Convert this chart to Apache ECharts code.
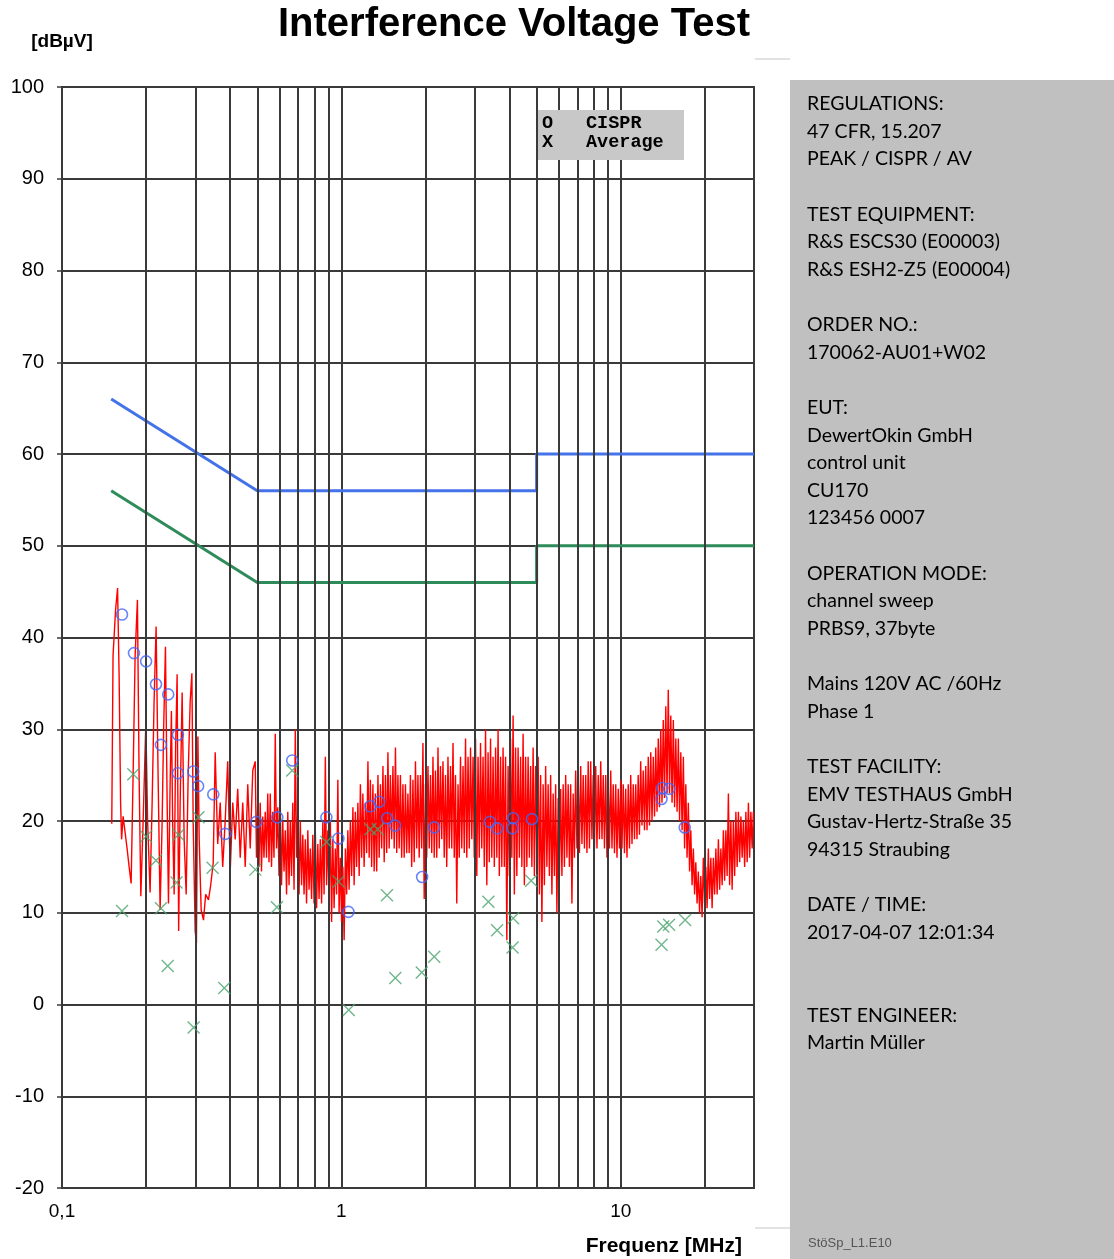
<!DOCTYPE html>
<html><head><meta charset="utf-8">
<script src="https://cdn.jsdelivr.net/npm/echarts@6/dist/echarts.min.js"></script>
<style>html,body{margin:0;padding:0;background:#fff}#chart{width:1114px;height:1259px}</style>
</head><body><div id="chart"></div>
<script>
// ---------- texts ----------
const titleText = 'Interference Voltage Test';
const yUnitText = '[dBµV]';
const xNameText = 'Frequenz [MHz]';
const footerText = 'StöSp_L1.E10';
const legendMarks = ['O', 'X'];
const legendNames = ['CISPR', 'Average'];
const infoLines = [
  'REGULATIONS:', '47 CFR, 15.207', 'PEAK / CISPR / AV', '',
  'TEST EQUIPMENT:', 'R&S ESCS30 (E00003)', 'R&S ESH2-Z5 (E00004)', '',
  'ORDER NO.:', '170062-AU01+W02', '',
  'EUT:', 'DewertOkin GmbH', 'control unit', 'CU170', '123456 0007', '',
  'OPERATION MODE:', 'channel sweep', 'PRBS9, 37byte', '',
  'Mains 120V AC /60Hz', 'Phase 1', '',
  'TEST FACILITY:', 'EMV TESTHAUS GmbH', 'Gustav-Hertz-Straße 35', '94315 Straubing', '',
  'DATE / TIME:', '2017-04-07 12:01:34', '', '',
  'TEST ENGINEER:', 'Martin Müller'
];

// ---------- axes ----------
const yMin = -20, yMax = 100, yStep = 10;
const xMin = 0.1, xMax = 30;
const xLabelValues = [0.1, 1, 10];
const xLabelTexts = ['0,1', '1', '10'];
const minorGridFreqs = [0.2, 0.3, 0.4, 0.5, 0.6, 0.7, 0.8, 0.9, 2, 3, 4, 5, 6, 7, 8, 9, 20];

// ---------- limit lines [MHz, dBµV] ----------
const qpLimit = [[0.15, 66], [0.5, 56], [5, 56], [5, 60], [30, 60]];
const avLimit = [[0.15, 56], [0.5, 46], [5, 46], [5, 50], [30, 50]];

// ---------- final measurement points [MHz, dBµV] ----------
const cisprPoints = [
  [0.164, 42.5], [0.181, 38.3], [0.200, 37.4], [0.217, 34.9], [0.226, 28.3], [0.240, 33.8],
  [0.260, 29.4], [0.260, 25.2], [0.295, 25.4], [0.307, 23.8], [0.348, 22.9], [0.384, 18.6],
  [0.496, 19.9], [0.590, 20.4], [0.667, 26.6], [0.884, 20.4], [0.976, 18.1], [1.06, 10.1],
  [1.27, 21.6], [1.365, 22.1], [1.458, 20.3], [1.557, 19.5], [1.946, 13.9], [2.15, 19.3],
  [3.40, 19.9], [3.61, 19.2], [4.12, 20.3], [4.10, 19.2], [4.81, 20.2],
  [14.0, 22.4], [14.1, 23.6], [14.9, 23.5], [16.95, 19.3]
];
const averagePoints = [
  [0.164, 10.2], [0.180, 25.1], [0.200, 18.3], [0.217, 15.7], [0.226, 10.5], [0.239, 4.2],
  [0.257, 13.3], [0.261, 18.5], [0.296, -2.5], [0.308, 20.4], [0.346, 14.9], [0.381, 1.8],
  [0.492, 14.7], [0.588, 10.6], [0.667, 25.5], [0.884, 17.7], [0.977, 13.4], [1.063, -0.6],
  [1.27, 19.1], [1.35, 19.1], [1.456, 11.9], [1.56, 2.9], [1.94, 3.5], [2.15, 5.2],
  [3.36, 11.2], [3.61, 8.1], [4.10, 6.2], [4.12, 9.4], [4.78, 13.5],
  [14.0, 6.5], [14.2, 8.5], [14.9, 8.7], [17.0, 9.2]
];

// ---------- peak sweep trace [MHz, dBµV] ----------
const peakTraceLow = [
  [0.1507,19.7],[0.1523,38],[0.1555,43],[0.1581,45.4],[0.1601,36],[0.1621,22],[0.1634,18],[0.1655,20.5],
  [0.1682,20.3],[0.1710,17],[0.1739,15],[0.1768,13.2],[0.1797,25],[0.1827,38],[0.1862,44.1],[0.1888,25],
  [0.1915,11.8],[0.1952,20],[0.1996,30.7],[0.2025,20],[0.2067,12.2],[0.2102,22],[0.2136,33],[0.2172,41.2],
  [0.2208,25],[0.2245,10.3],[0.2283,20],[0.2311,30],[0.2346,39],[0.2379,22],[0.2405,11],[0.2438,24],
  [0.2464,32],[0.2489,20],[0.2520,12],[0.2551,28],[0.2583,36],[0.2616,8],[0.2648,22],[0.2692,34],
  [0.2737,18],[0.2783,12],[0.2829,25],[0.2876,33],[0.2917,36.1],[0.2948,20],[0.2997,8],[0.3029,6.7],
  [0.3065,29.2],[0.3098,18],[0.3149,10.3],[0.3210,9.2],[0.3268,12],[0.3345,11.4],[0.3406,13],[0.3477,15.4],
  [0.3535,27.5],[0.3609,17.5],[0.3684,22],[0.3761,15],[0.3839,20],[0.3919,26.5],[0.4001,14.5],[0.4085,22],
  [0.4169,18],[0.4256,23.5],[0.4345,16],[0.4436,22],[0.4528,15],[0.4623,24],[0.4719,17],[0.4818,25.5]
];
const peakTraceHigh = [
  [0.4917,26.5],[0.4968,16],[0.5020,22],[0.5072,15],[0.5124,22],[0.5177,14.5],[0.5231,20.5],[0.5285,16],
  [0.5340,21],[0.5396,16],[0.5452,23],[0.5508,15.5],[0.5565,23],[0.5623,15],[0.5681,21],[0.5740,16],
  [0.5800,29.5],[0.5860,17],[0.5921,21.5],[0.5982,14],[0.6044,22],[0.6107,13],[0.6170,20],[0.6234,14.5],
  [0.6299,19],[0.6365,12],[0.6431,21],[0.6497,13],[0.6564,20],[0.6632,14],[0.6701,22],[0.6771,12.5],
  [0.6841,30],[0.6912,16],[0.6984,21],[0.7056,12],[0.7129,20],[0.7203,13],[0.7278,18.5],[0.7353,12],
  [0.7429,18],[0.7506,11],[0.7584,19],[0.7663,12.5],[0.7743,17],[0.7823,11.5],[0.7904,18.5],[0.7986,11],
  [0.8069,19],[0.8153,10.5],[0.8237,17.5],[0.8322,11.5],[0.8408,18],[0.8496,11],[0.8584,20],[0.8673,12],
  [0.8763,27],[0.8854,13],[0.8946,19],[0.9039,11],[0.9132,20],[0.9227,9],[0.9322,18],[0.9419,10.5],
  [0.9516,17],[0.9615,12],[0.9715,24.5],[0.9816,10],[0.9918,16],[1.0021,9],[1.0125,15],[1.0232,7],
  [1.034,17],[1.0445,12],[1.055,19],[1.066,12.5],[1.077,20],[1.0885,14],[1.100,21.5],[1.111,13],
  [1.122,21],[1.134,15],[1.146,22],[1.158,14],[1.170,24],[1.182,16],[1.194,23],[1.2065,15],
  [1.219,22],[1.232,16.5],[1.245,26.5],[1.2575,16],[1.270,24.5],[1.2835,15],[1.297,24],[1.3105,14.5],
  [1.324,23],[1.338,14.5],[1.352,25],[1.366,16],[1.380,24],[1.3945,17],[1.409,26],[1.4235,15.5],
  [1.438,25],[1.453,16.5],[1.468,27.5],[1.483,17],[1.498,25],[1.514,18],[1.530,26],[1.546,17],
  [1.562,28],[1.578,16.5],[1.594,25],[1.6105,17],[1.627,25],[1.644,16],[1.661,24],[1.6785,16],
  [1.696,24],[1.7135,16.5],[1.731,23],[1.749,16.5],[1.767,25],[1.7855,15],[1.804,24.5],[1.823,15.5],
  [1.842,26.5],[1.861,17],[1.880,25],[1.8995,16],[1.919,25],[1.939,17],[1.959,28.5],[1.9795,11.5],
  [2.000,24],[2.021,16],[2.042,26],[2.0635,17],[2.085,25],[2.1065,16.5],[2.128,27],[2.150,16],
  [2.172,25.5],[2.195,16],[2.218,28],[2.241,17],[2.264,26],[2.2875,18],[2.311,26.5],[2.335,16],
  [2.359,25],[2.3835,15],[2.408,27],[2.4335,17],[2.459,26],[2.4845,17],[2.510,28.5],[2.536,16],
  [2.562,25],[2.589,11],[2.616,24],[2.643,16],[2.670,27],[2.698,17],[2.726,26],[2.7545,16.5],
  [2.783,29],[2.812,16],[2.841,27],[2.8705,17],[2.900,28],[2.9305,18],[2.961,27],[2.9915,16],
  [3.022,29],[3.0535,14],[3.085,27],[3.117,16],[3.149,28.5],[3.182,17],[3.215,27],[3.2485,15],
  [3.282,30],[3.3165,13],[3.351,27.5],[3.3855,15.5],[3.420,29],[3.456,16],[3.492,27],[3.5285,15],
  [3.565,28],[3.602,16],[3.639,30],[3.677,14],[3.715,27],[3.7535,15],[3.792,28],[3.8315,15],
  [3.871,27],[3.9115,7],[3.952,26],[3.993,14],[4.034,29],[4.0765,16],[4.119,31.5],[4.1615,12],
  [4.204,28],[4.248,14],[4.292,28],[4.337,16],[4.382,27],[4.4275,15],[4.473,29.5],[4.5195,13],
  [4.566,27],[4.6135,15],[4.661,27],[4.710,16],[4.759,26],[4.8085,15],[4.858,28],[4.9085,14],
  [4.959,26],[5.011,15],[5.063,27],[5.1155,12],[5.168,25],[5.222,9],[5.276,24],[5.331,13],
  [5.386,26],[5.442,15],[5.498,24],[5.5555,14],[5.613,25],[5.6715,12],[5.730,23],[5.7895,14],
  [5.849,24],[5.910,10],[5.971,22.5],[6.0335,14],[6.096,23.5],[6.1595,14],[6.223,24],[6.288,15],
  [6.353,25],[6.419,16],[6.485,24],[6.5525,15],[6.620,24],[6.689,11],[6.758,23],[6.8285,16],
  [6.899,25.5],[6.971,17],[7.043,25],[7.1165,16.5],[7.190,26],[7.265,17.5],[7.340,25],[7.4165,17],
  [7.493,25],[7.571,16.5],[7.649,26.5],[7.7285,17],[7.808,26.5],[7.8895,18],[7.971,25],[8.054,17],
  [8.137,26],[8.222,17],[8.307,25],[8.394,18],[8.481,26.5],[8.5695,18],[8.658,25],[8.748,17],
  [8.838,25],[8.930,16],[9.022,24],[9.116,17],[9.210,25.5],[9.306,17],[9.402,24],[9.500,16.5],
  [9.598,24],[9.698,16],[9.798,23.5],[9.899,17],[10.00,24.5],[10.105,17],[10.21,24],[10.315,16.5],
  [10.42,23.5],[10.53,16],[10.64,24],[10.75,17],[10.86,25],[10.975,17.5],[11.09,24],[11.205,18],
  [11.32,24],[11.435,18],[11.55,25],[11.67,18.5],[11.79,26.5],[11.915,19.5],[12.04,25.5],[12.165,19],
  [12.29,26],[12.42,19],[12.55,27],[12.68,19.5],[12.81,27.5],[12.945,20],[13.08,27],[13.215,20.5],
  [13.35,28],[13.49,21],[13.63,29],[13.77,21.5],[13.91,30],[14.055,22],[14.20,31],[14.35,22.5],
  [14.50,32.5],[14.65,23],[14.80,34.3],[14.955,23],[15.11,31.5],[15.27,22],[15.43,31],[15.59,21.5],
  [15.75,29],[15.915,21],[16.08,29],[16.245,20],[16.41,27.5],[16.585,19],[16.76,27],[16.93,17],
  [17.10,24],[17.28,16],[17.46,22],[17.64,14.5],[17.82,19],[18.01,13],[18.20,17],[18.385,12],
  [18.57,15.5],[18.765,11],[18.96,14.5],[19.155,10],[19.35,14],[19.555,9.5],[19.76,16],[19.965,11],
  [20.17,15],[20.38,10.5],[20.59,17],[20.805,11.5],[21.02,16],[21.24,10.5],[21.46,16],[21.685,12],
  [21.91,17],[22.14,12],[22.37,18],[22.60,12.5],[22.83,17],[23.07,13],[23.31,19],[23.55,13.5],
  [23.79,19],[24.04,14],[24.29,23],[24.54,13],[24.79,20],[25.05,12.5],[25.31,20],[25.575,14],
  [25.84,21],[26.11,15],[26.38,21],[26.655,15.5],[26.93,20.5],[27.21,16],[27.49,20],[27.775,15],
  [28.06,21],[28.355,15.5],[28.65,22],[28.945,16],[29.24,21],[29.545,17],[29.85,21]
];
const peakTrace = peakTraceLow.concat(peakTraceHigh);

// ---------- chart ----------
const chart = echarts.init(document.getElementById('chart'), null, { renderer: 'canvas' });
const GRID = { left: 62, right: 360, top: 87, bottom: 71 };
const gridColor = '#3a3a3a';

function xLabel(v) {
  for (let i = 0; i < xLabelValues.length; i++) {
    if (Math.abs(Math.log10(v) - Math.log10(xLabelValues[i])) < 1e-6) return xLabelTexts[i];
  }
  return '';
}

const option = {
  animation: false,
  backgroundColor: '#ffffff',
  title: {
    text: titleText, left: 273, top: 0,
    textStyle: { fontFamily: 'Liberation Sans, Arial, sans-serif', fontSize: 40, fontWeight: 'bold', color: '#000' }
  },
  grid: { left: GRID.left, right: GRID.right, top: GRID.top, bottom: GRID.bottom, show: true,
          borderColor: gridColor, borderWidth: 2, backgroundColor: 'transparent' },
  xAxis: {
    type: 'log', logBase: 10, min: xMin, max: xMax,
    axisLine: { show: true, lineStyle: { color: gridColor, width: 2 } },
    axisTick: { show: true, length: 5, lineStyle: { color: gridColor, width: 1.5 } },
    axisLabel: { formatter: xLabel, margin: 14, color: '#000', fontSize: 19,
                 fontFamily: 'Liberation Sans Narrow, Liberation Sans, sans-serif', showMaxLabel: false },
    splitLine: { show: true, lineStyle: { color: gridColor, width: 2 } }
  },
  yAxis: {
    type: 'value', min: yMin, max: yMax, interval: yStep,
    name: yUnitText, nameLocation: 'end', nameGap: 36,
    nameTextStyle: { fontFamily: 'Liberation Sans, Arial, sans-serif', fontSize: 19, fontWeight: 'bold', color: '#000', align: 'center' },
    axisLine: { show: true, lineStyle: { color: gridColor, width: 2 } },
    axisTick: { show: true, length: 5, lineStyle: { color: gridColor, width: 1.5 } },
    axisLabel: { margin: 18, color: '#000', fontSize: 20, fontFamily: 'Liberation Sans Narrow, Liberation Sans, sans-serif' },
    splitLine: { show: true, lineStyle: { color: gridColor, width: 2 } }
  },
  series: [
    {
      name: 'minor grid', type: 'line', data: [], z: 1, silent: true,
      markLine: {
        silent: true, symbol: 'none', animation: false,
        label: { show: false },
        lineStyle: { color: gridColor, width: 2, type: 'solid' },
        emphasis: { disabled: true },
        data: minorGridFreqs.map(f => ({ xAxis: f }))
      }
    },
    {
      name: 'Peak', type: 'line', data: peakTrace, z: 3, showSymbol: false, symbol: 'none',
      sampling: null, lineStyle: { color: '#ff0000', width: 1.4 }, silent: true
    },
    {
      name: 'QP limit', type: 'line', data: qpLimit, z: 4, showSymbol: false, symbol: 'none',
      lineStyle: { color: '#4472e8', width: 3 }, silent: true
    },
    {
      name: 'AV limit', type: 'line', data: avLimit, z: 4, showSymbol: false, symbol: 'none',
      lineStyle: { color: '#2e8b5a', width: 3 }, silent: true
    },
    {
      name: 'CISPR', type: 'scatter', data: cisprPoints, z: 5, symbol: 'circle', symbolSize: 11,
      itemStyle: { color: 'transparent', borderColor: '#4466f5', borderWidth: 1.6 }, silent: true
    },
    {
      name: 'Average', type: 'scatter', data: averagePoints, z: 5, symbol: 'path://M0,0L10,10M10,0L0,10', symbolSize: 12,
      itemStyle: { color: 'transparent', borderColor: '#4ca46e', borderWidth: 1.4 }, silent: true
    }
  ],
  graphic: [
    { type: 'text', z: 11, x: 742, y: 1246,
      style: { text: xNameText, fill: '#000', font: 'bold 21px "Liberation Sans Narrow", "Liberation Sans", sans-serif',
               align: 'right', verticalAlign: 'middle' } },
    { type: 'line', z: 10, shape: { x1: 755, y1: 59, x2: 790, y2: 59 }, style: { stroke: '#d8d8d8', lineWidth: 1.5 } },
    { type: 'line', z: 10, shape: { x1: 755, y1: 1228, x2: 790, y2: 1228 }, style: { stroke: '#d8d8d8', lineWidth: 1.5 } },
    { type: 'rect', z: 10, shape: { x: 790, y: 80, width: 324, height: 1179 }, style: { fill: '#c0c0c0' } },
    { type: 'text', z: 11, x: 807, y: 90,
      style: { text: infoLines.join('\n'), fill: '#000', font: '19.5px Lato, "Open Sans", sans-serif',
               lineHeight: 27.62, verticalAlign: 'top', align: 'left' } },
    { type: 'text', z: 11, x: 808, y: 1243,
      style: { text: footerText, fill: '#555', font: '13px "Liberation Sans Narrow", "Liberation Sans", sans-serif',
               verticalAlign: 'middle', align: 'left' } },
    { type: 'rect', z: 20, shape: { x: 538, y: 110, width: 146, height: 50 }, style: { fill: '#c8c8c8' } },
    { type: 'text', z: 21, x: 542, y: 114,
      style: { text: legendMarks.join('\n'), fill: '#000', font: 'bold 18.5px "Liberation Mono", "DejaVu Sans Mono", monospace',
               lineHeight: 19, verticalAlign: 'top' } },
    { type: 'text', z: 21, x: 586, y: 114,
      style: { text: legendNames.join('\n'), fill: '#000', font: 'bold 18.5px "Liberation Mono", "DejaVu Sans Mono", monospace',
               lineHeight: 19, verticalAlign: 'top' } }
  ]
};
chart.setOption(option);
</script>
</body></html>
